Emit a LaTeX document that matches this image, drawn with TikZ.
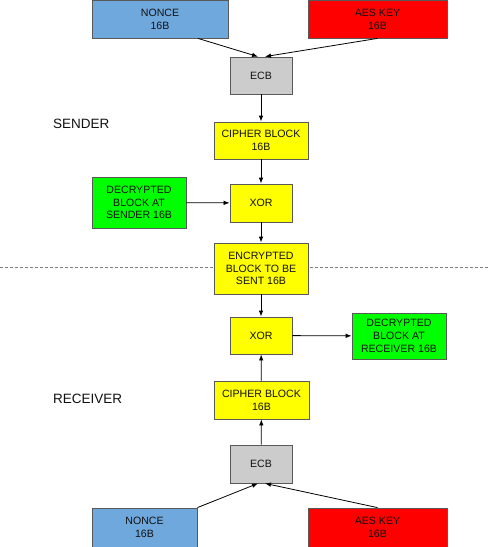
\documentclass[tikz,border=0pt]{standalone}
\usepackage{fontspec}
\setmainfont{Liberation Sans}
\usetikzlibrary{arrows.meta}
\definecolor{bluebox}{HTML}{6FA8DC}
\definecolor{redbox}{HTML}{FF0000}
\definecolor{greybox}{HTML}{CCCCCC}
\definecolor{yellowbox}{HTML}{FFFF00}
\definecolor{greenbox}{HTML}{00FF00}
\definecolor{edge}{HTML}{595959}
\definecolor{txt}{HTML}{111111}
\begin{document}
\begin{tikzpicture}[x=1pt,y=-1pt,
  box/.style={draw=edge,line width=0.8pt,inner sep=0pt,align=center,text=txt,
    font=\fontsize{10.6}{12.7}\selectfont},
  arr/.style={-{Latex[length=6pt,width=4.5pt]},line width=0.8pt,black},
  side/.style={font=\fontsize{13.5}{16}\selectfont,text=txt,anchor=base west,inner sep=0pt}]
\useasboundingbox (0,0) rectangle (490,547);
\fill[white] (0,0) rectangle (490,547);
\draw[gray,line width=0.7pt,dash pattern=on 3pt off 2pt] (0,267) -- (490,267);
% sender
\node[box,fill=bluebox,minimum width=136pt,minimum height=38pt] (n1) at (160,19) {NONCE\\16B};
\node[box,fill=redbox,minimum width=139pt,minimum height=38pt] (k1) at (377.5,19) {AES KEY\\16B};
\node[box,fill=greybox,minimum width=62pt,minimum height=37pt] (e1) at (261,75.5) {ECB};
\node[box,fill=yellowbox,minimum width=94pt,minimum height=37pt] (c1) at (261,140.5) {CIPHER BLOCK\\16B};
\node[box,fill=yellowbox,minimum width=62pt,minimum height=38pt] (x1) at (261,203) {XOR};
\node[box,fill=greenbox,minimum width=94pt,minimum height=51pt] (d1) at (139,202.5) {DECRYPTED\\BLOCK AT\\SENDER 16B};
\node[box,fill=yellowbox,minimum width=94pt,minimum height=51pt] (en) at (261,268.5) {ENCRYPTED\\BLOCK TO BE\\SENT 16B};
% receiver
\node[box,fill=yellowbox,minimum width=62pt,minimum height=37pt] (x2) at (261,335.5) {XOR};
\node[box,fill=greenbox,minimum width=94pt,minimum height=46pt] (d2) at (399,336) {DECRYPTED\\BLOCK AT\\RECEIVER 16B};
\node[box,fill=yellowbox,minimum width=95pt,minimum height=38pt] (c2) at (261.5,400) {CIPHER BLOCK\\16B};
\node[box,fill=greybox,minimum width=62pt,minimum height=38pt] (e2) at (261,464) {ECB};
\node[box,fill=bluebox,minimum width=105pt,minimum height=39pt] (n2) at (144.5,527.5) {NONCE\\16B};
\node[box,fill=redbox,minimum width=139pt,minimum height=39pt] (k2) at (377.5,527.5) {AES KEY\\16B};
% labels
\node[side] (ls) at (53,128) {SENDER};
\node[side] (lr) at (53,403) {RECEIVER};
% coordinates
\coordinate (e1a) at ([xshift=-3pt]e1.north);
\coordinate (e1b) at ([xshift=4pt]e1.north);
\coordinate (e2a) at ([xshift=-3pt]e2.south);
\coordinate (e2b) at ([xshift=4pt]e2.south);
\coordinate (n1s) at ([xshift=38pt]n1.south);
\coordinate (n2n) at (n2.north east);
% arrows
\draw[arr] (n1s) -- (e1a);
\draw[arr] (k1.south) -- (e1b);
\draw[arr] (e1) -- (c1);
\draw[arr] (c1) -- (x1);
\draw[arr] (d1) -- (x1);
\draw[arr] (x1) -- (en);
\draw[arr] (en) -- (x2);
\draw[arr] (x2) -- (d2);
\draw[arr] (c2) -- (x2);
\draw[arr] (e2) -- (c2);
\draw[arr] (n2n) -- (e2a);
\draw[arr] (k2.north) -- (e2b);
\end{tikzpicture}
\end{document}
